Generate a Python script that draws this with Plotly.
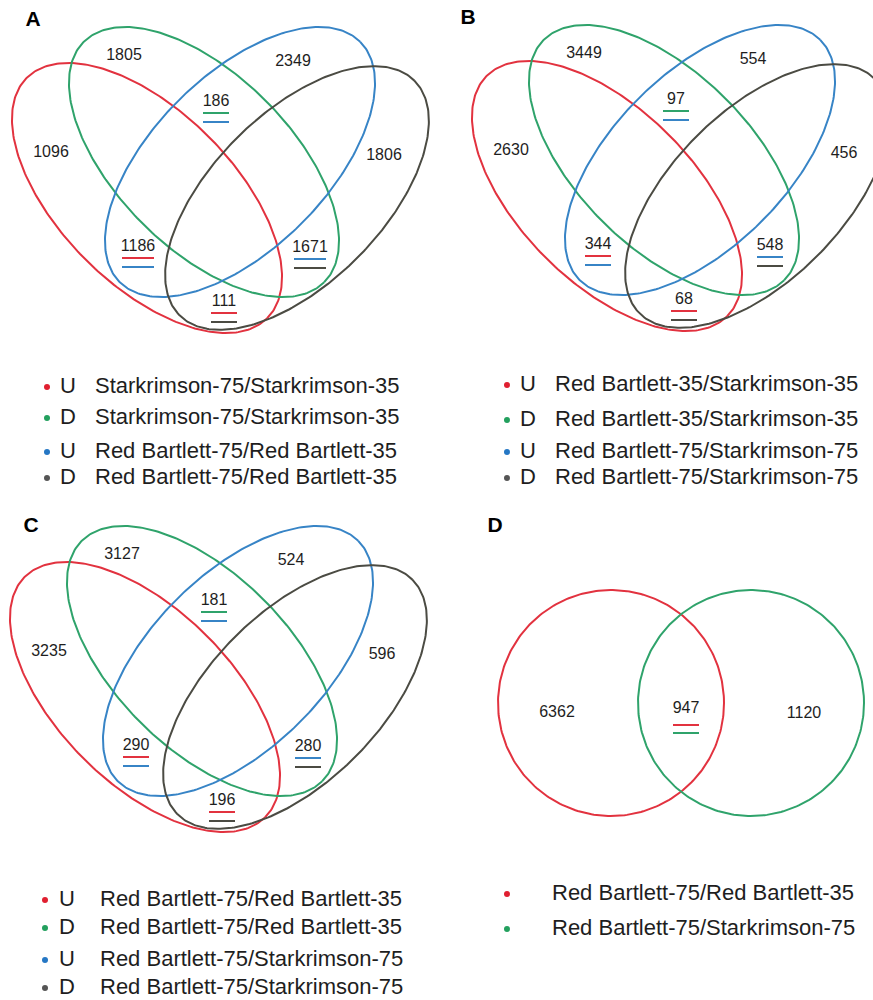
import numpy as np
import plotly.graph_objects as go

# sets in each panel: red, green, blue, black
set_colors = ['#e2323f', '#2fa36b', '#3784c6', '#4b4b43']
dot_colors = ['#e01f30', '#23a05e', '#2577c4', '#555555']

# 4-set panels, regions in order: red only, green only, blue only, black only,
# green&blue, red&blue, blue&black, red&black
A_values = [1096, 1805, 2349, 1806, 186, 1186, 1671, 111]
B_values = [2630, 3449, 554, 456, 97, 344, 548, 68]
C_values = [3235, 3127, 524, 596, 181, 290, 280, 196]
region_sets = [[], [], [], [], [1, 2], [0, 2], [2, 3], [0, 3]]

# 2-set panel: red only, both, green only
D_values = [6362, 947, 1120]
D_sets = [[], [0, 1], []]

legend_dir = ['U', 'D', 'U', 'D']
A_legend = ['Starkrimson-75/Starkrimson-35', 'Starkrimson-75/Starkrimson-35',
            'Red Bartlett-75/Red Bartlett-35', 'Red Bartlett-75/Red Bartlett-35']
B_legend = ['Red Bartlett-35/Starkrimson-35', 'Red Bartlett-35/Starkrimson-35',
            'Red Bartlett-75/Starkrimson-75', 'Red Bartlett-75/Starkrimson-75']
C_legend = ['Red Bartlett-75/Red Bartlett-35', 'Red Bartlett-75/Red Bartlett-35',
            'Red Bartlett-75/Starkrimson-75', 'Red Bartlett-75/Starkrimson-75']
D_legend = ['Red Bartlett-75/Red Bartlett-35', 'Red Bartlett-75/Starkrimson-75']

FONT = 'Liberation Sans, Arial, sans-serif'
TXT = '#1e1e1e'

# ellipse layout, relative to the panel's middle (x) and red centre (y)
ell_dx = [-75, -18, 18, 75]
ell_dy = [0, -36, -36, 0]
ell_ang = [45, 45, -45, -45]
ell_a = [170, 170, 170, 166]
ell_b = [87, 87, 87, 85]
lab_off = [(-171, -45), (-98, -142), (71, -136), (162, -42),
           (-6, -96), (-84, 49), (88, 50), (2, 104)]

fig = go.Figure()
t = np.linspace(0, 2 * np.pi, 300)


def underline(x, y, value, sets, dy=(11, 20)):
    hw = 16 if len(str(value)) > 3 else 13
    for s, off in zip(sets, dy):
        fig.add_trace(go.Scatter(x=[x - hw, x + hw], y=[y + off, y + off], mode='lines',
                                 line=dict(color=set_colors[s], width=2)))


def venn4(cx, cy, values):
    for i in range(4):
        th = np.radians(ell_ang[i])
        ex, ey = cx + ell_dx[i], cy + ell_dy[i]
        xs = ex + ell_a[i] * np.cos(t) * np.cos(th) - ell_b[i] * np.sin(t) * np.sin(th)
        ys = ey + ell_a[i] * np.cos(t) * np.sin(th) + ell_b[i] * np.sin(t) * np.cos(th)
        fig.add_trace(go.Scatter(x=xs, y=ys, mode='lines',
                                 line=dict(color=set_colors[i], width=2)))
    xs = [cx + o[0] for o in lab_off]
    ys = [cy + o[1] for o in lab_off]
    fig.add_trace(go.Scatter(x=xs, y=ys, mode='text', text=[str(v) for v in values],
                             textfont=dict(family=FONT, size=16, color=TXT)))
    for x, y, v, s in zip(xs, ys, values, region_sets):
        underline(x, y, v, s)


def legend(x_dot, x_dir, x_txt, rows, labels, dirs):
    n = len(labels)
    fig.add_trace(go.Scatter(x=[x_dot] * n, y=rows, mode='markers',
                             marker=dict(color=dot_colors[:n], size=6)))
    if dirs:
        fig.add_trace(go.Scatter(x=[x_dir] * n, y=rows, mode='text', text=dirs,
                                 textfont=dict(family=FONT, size=22, color=TXT)))
    fig.add_trace(go.Scatter(x=[x_txt] * n, y=rows, mode='text', text=labels,
                             textposition='middle right',
                             textfont=dict(family=FONT, size=22, color=TXT)))


venn4(222, 198, A_values)
venn4(682, 196, B_values)
venn4(220, 697, C_values)

# panel D: two circles
for i, (cx, r) in enumerate([(611, 113), (751, 113)]):
    fig.add_trace(go.Scatter(x=cx + r * np.cos(t), y=703 + r * np.sin(t), mode='lines',
                             line=dict(color=set_colors[i], width=2)))
dx = [557, 686, 804]
dy = [713, 709, 714]
fig.add_trace(go.Scatter(x=dx, y=dy, mode='text', text=[str(v) for v in D_values],
                         textfont=dict(family=FONT, size=16, color=TXT)))
for x, y, v, s in zip(dx, dy, D_values, D_sets):
    underline(x, y, v, s, dy=(16, 24))

legend(47, 68, 95, [387, 418, 452, 478], A_legend, legend_dir)
legend(507, 528, 555, [385, 420, 452, 478], B_legend, legend_dir)
legend(45, 67, 100, [900, 928, 960, 988], C_legend, legend_dir)
legend(507, None, 552, [894, 929], D_legend, None)

# panel letters
fig.add_trace(go.Scatter(x=[33, 468, 31, 495], y=[21, 19, 527, 527], mode='text',
                         text=['<b>A</b>', '<b>B</b>', '<b>C</b>', '<b>D</b>'],
                         textfont=dict(family=FONT, size=21, color='#000000')))

fig.update_traces(hoverinfo='skip')
fig.update_layout(
    width=873, height=1000,
    margin=dict(l=0, r=0, t=0, b=0),
    paper_bgcolor='white', plot_bgcolor='white',
    showlegend=False,
    xaxis=dict(range=[0, 873], visible=False, fixedrange=True),
    yaxis=dict(range=[1000, 0], visible=False, fixedrange=True),
)

fig.write_html("out.html", config={'displayModeBar': False},
               post_script="document.body.style.margin='0';")
